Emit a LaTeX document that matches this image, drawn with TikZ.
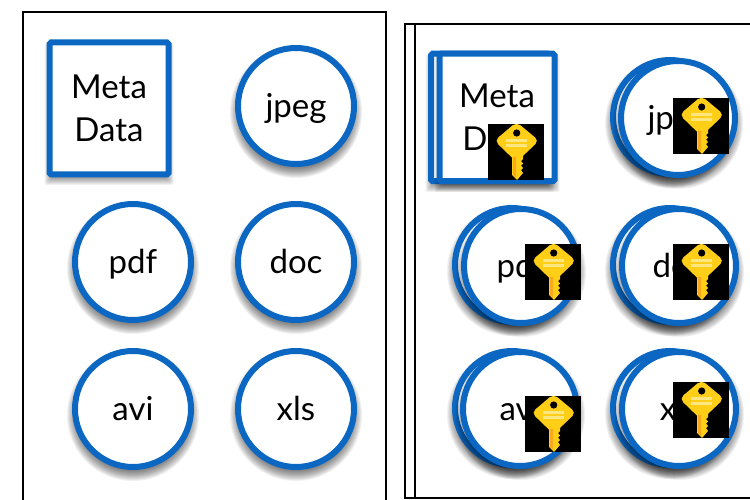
\documentclass[tikz,border=0pt]{standalone}
\usepackage{fontspec}
\setmainfont{Lato}
\definecolor{docblue}{HTML}{0B67C1}
\definecolor{keygold}{HTML}{FFCF18}
\definecolor{keylight}{HTML}{FFE680}
\definecolor{keyorange}{HTML}{F7A81B}
\newcommand{\softcircle}[3]{%
  \foreach \g in {0,1,...,10}{\fill[black,opacity=0.055] (#1,#2+6) circle[radius=#3+5-\g];}}
\newcommand{\softsquare}[4]{%
  \foreach \g in {0,1,...,10}{\fill[black,opacity=0.055,rounded corners=2pt] (#1-5+\g,#2+6-5+\g) rectangle (#3+5-\g,#4+6+5-\g);}}
\newcommand{\keyart}[3]{% name, x, y (top-left of the 56 box)
  \node[keybox,anchor=north west] (#1) at (#2,#3) {};
  \begin{scope}[shift={(#2,#3)}]
    \fill[keygold,rounded corners=5pt] (28.5,-2) -- (51,16.7) -- (28.5,38) -- (6.5,16.7) -- cycle;
    \fill[keygold] (24,28) -- (35,28) -- (35,35) -- (33,37) -- (35,39.5) -- (33,41.5) -- (35,44) -- (33,46) -- (35,49) -- (29,56) -- (24,51) -- cycle;
    \fill[black] (28.7,9) circle[radius=3.6];
    \fill[keylight] (18,15) rectangle (39,18);
    \fill[keylight] (18,20) rectangle (39,23);
    \fill[keyorange] (25,33) -- (28,33) -- (28,54) -- (25,51) -- cycle;
  \end{scope}}
\tikzset{
  x=1pt,y=-1pt,
  frame/.style={draw=black,line width=2.2pt},
  disc/.style={circle,draw=docblue,fill=white,line width=6pt,minimum size=116pt,inner sep=0pt,font=\fontsize{33}{33}\selectfont,text=black,text height=27pt,text depth=4pt},
  discfront/.style={disc,minimum size=114pt},
  sheet/.style={rectangle,draw=docblue,fill=white,line width=6pt,rounded corners=1.5pt,inner sep=0pt,align=center,font=\fontsize{33}{43}\selectfont,text=black},
  keybox/.style={rectangle,fill=black,minimum size=56pt,inner sep=0pt,outer sep=0pt}
}
\begin{document}
\begin{tikzpicture}
\useasboundingbox (0,0) rectangle (750,500);
\fill[white] (0,0) rectangle (750,500);
% frames
\draw[frame] (23,503) -- (23,12) -- (386,12) -- (386,503);
\draw[frame] (770,24) -- (405,24) -- (405,498) -- (770,498);
\draw[frame] (415,24) -- (415,498);
% left group
\softsquare{49.5}{42}{168.5}{174}
\node[sheet,minimum width=119pt,minimum height=132pt] (meta) at (109,108.5) {Meta\\Data};
\softcircle{296}{106}{61}
\node[disc] (jpeg) at (296,106) {jpeg};
\softcircle{133}{262}{61}
\node[disc] (pdf) at (133,262) {pdf};
\softcircle{296}{262}{61}
\node[disc] (doc) at (296,262) {doc};
\softcircle{133}{409}{61}
\node[disc] (avi) at (133,409) {avi};
\softcircle{296}{409}{61}
\node[disc] (xls) at (296,409) {xls};
% right group: back sheets
\softsquare{430.5}{53.5}{549}{181}
\node[sheet,minimum width=118pt,minimum height=127.5pt] (metab) at (490,117.5) {};
\softcircle{670}{117}{60}
\node[discfront] (jpegb) at (670,117) {};
\softcircle{512}{265}{60}
\node[discfront] (pdfb) at (512,265) {};
\softcircle{670}{265}{60}
\node[discfront] (docb) at (670,265) {};
\softcircle{512}{408}{60}
\node[discfront] (avib) at (512,408) {};
\softcircle{670}{408}{60}
\node[discfront] (xlsb) at (670,408) {};
% right group: front sheets
\softsquare{439.5}{53.5}{554.5}{181}
\node[sheet,minimum width=115pt,minimum height=127.5pt] (metaf) at (497,117.5) {Meta\\Data};
\softcircle{678}{118}{60}
\node[discfront] (jpegf) at (678,118) {jpeg};
\softcircle{521}{266}{60}
\node[discfront] (pdff) at (521,266) {pdf};
\softcircle{679}{266}{60}
\node[discfront] (docf) at (679,266) {doc};
\softcircle{520}{409}{60}
\node[discfront] (avif) at (520,409) {avi};
\softcircle{679}{409}{60}
\node[discfront] (xlsf) at (679,409) {xls};
% keys
\keyart{k1}{488}{124}
\keyart{k2}{673}{98}
\keyart{k3}{525}{244}
\keyart{k4}{673}{244}
\keyart{k5}{525}{396}
\keyart{k6}{673}{382}
\end{tikzpicture}
\end{document}
